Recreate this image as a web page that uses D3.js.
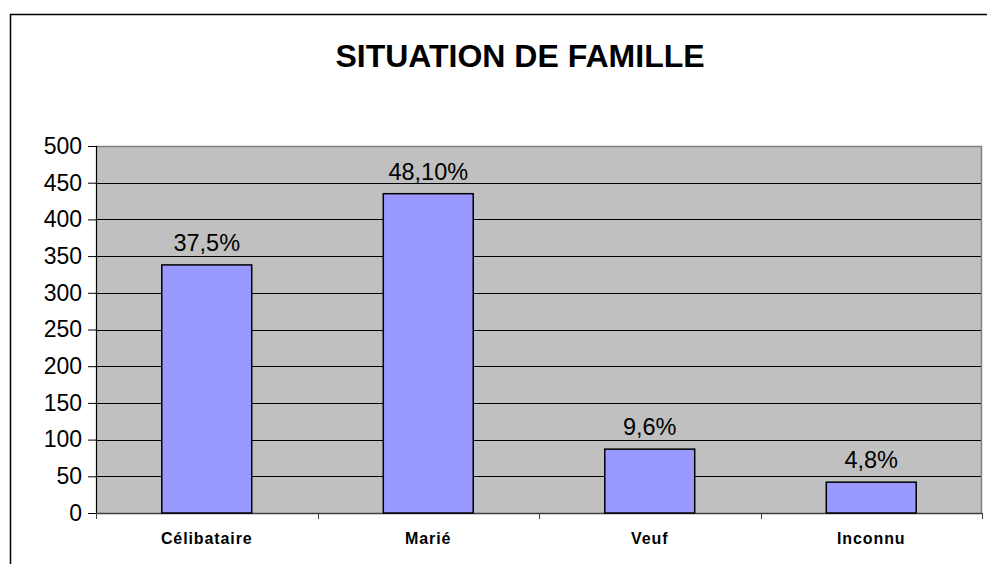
<!DOCTYPE html>
<html>
<head>
<meta charset="utf-8">
<script src="https://cdn.jsdelivr.net/npm/d3@7/dist/d3.min.js"></script>
<style>
  html, body { margin: 0; padding: 0; background: #fff; }
  svg { display: block; font-family: "Liberation Sans", Arial, sans-serif; }
</style>
</head>
<body>
<svg id="chart" width="987" height="564"></svg>
<script>
// chart data
const categories = ['Célibataire', 'Marié', 'Veuf', 'Inconnu'];
const counts = [338, 435, 87, 42];
const pctLabels = ['37,5%', '48,10%', '9,6%', '4,8%'];
const yTicks = [0, 50, 100, 150, 200, 250, 300, 350, 400, 450, 500];
const title = 'SITUATION DE FAMILLE';

const plot = { left: 96, right: 982, top: 146, bottom: 513 };

const svg = d3.select('#chart');

// outer chart frame (runs off the right/bottom edge)
svg.append('rect').attr('x', 10.5).attr('y', 14.5).attr('width', 1100).attr('height', 700)
  .attr('fill', '#fff').attr('stroke', '#000').attr('stroke-width', 1.5);

const x = d3.scaleBand().domain(categories).range([plot.left, plot.right])
  .paddingInner(0.594).paddingOuter(0.297);
const y = d3.scaleLinear().domain([0, 500]).range([plot.bottom, plot.top]);

// plot area
svg.append('rect').attr('x', plot.left).attr('y', plot.top)
  .attr('width', plot.right - plot.left).attr('height', plot.bottom - plot.top)
  .attr('fill', '#c0c0c0');

// gridlines
svg.append('g').selectAll('line').data(yTicks.filter((t) => t > 0 && t < 500)).join('line')
  .attr('x1', plot.left).attr('x2', plot.right)
  .attr('y1', (d) => Math.round(y(d)) + 0.5).attr('y2', (d) => Math.round(y(d)) + 0.5)
  .attr('stroke', '#000').attr('stroke-width', 1);

// plot border top/right (grey)
svg.append('path')
  .attr('d', `M${plot.left},${plot.top + 0.5}H${plot.right - 0.5}V${plot.bottom}`)
  .attr('fill', 'none').attr('stroke', '#808080').attr('stroke-width', 1.5);

// y axis
const yAxis = svg.append('g').attr('transform', `translate(${plot.left},0)`)
  .call(d3.axisLeft(y).tickValues(yTicks).tickSize(8).tickPadding(6));
yAxis.select('.domain').attr('stroke', '#000').attr('stroke-width', 1.2);
yAxis.selectAll('.tick line').attr('stroke', '#000');
yAxis.selectAll('.tick text').attr('font-size', 23).attr('fill', '#000')
  .attr('font-family', '"Liberation Sans", Arial, sans-serif');

// x axis: ticks at category boundaries
const edges = d3.range(categories.length + 1).map((i) => plot.left + i * x.step());
svg.append('line').attr('x1', plot.left).attr('x2', plot.right)
  .attr('y1', plot.bottom + 0.5).attr('y2', plot.bottom + 0.5)
  .attr('stroke', '#404040').attr('stroke-width', 1.5);
svg.append('g').selectAll('line').data(edges).join('line')
  .attr('x1', (d) => Math.round(d) + 0.5).attr('x2', (d) => Math.round(d) + 0.5)
  .attr('y1', plot.bottom).attr('y2', plot.bottom + 6)
  .attr('stroke', '#404040').attr('stroke-width', 1);

svg.append('g').selectAll('text').data(categories).join('text')
  .attr('x', (d) => x(d) + x.bandwidth() / 2).attr('y', 544)
  .attr('text-anchor', 'middle').attr('font-size', 16).attr('font-weight', 'bold')
  .attr('letter-spacing', 0.9).attr('fill', '#000').text((d) => d);

// bars
svg.append('g').selectAll('rect').data(categories).join('rect')
  .attr('x', (d) => x(d)).attr('y', (d, i) => y(counts[i]))
  .attr('width', x.bandwidth()).attr('height', (d, i) => y(0) - y(counts[i]))
  .attr('fill', '#9999ff').attr('stroke', '#000').attr('stroke-width', 1.5);

// data labels
svg.append('g').selectAll('text').data(categories).join('text')
  .attr('x', (d) => x(d) + x.bandwidth() / 2).attr('y', (d, i) => y(counts[i]) - 14)
  .attr('text-anchor', 'middle').attr('font-size', 23.5).attr('fill', '#000')
  .text((d, i) => pctLabels[i]);

// title
svg.append('text').attr('x', 520).attr('y', 67).attr('text-anchor', 'middle')
  .attr('font-size', 32).attr('font-weight', 'bold').attr('fill', '#000').text(title);
</script>
</body>
</html>
